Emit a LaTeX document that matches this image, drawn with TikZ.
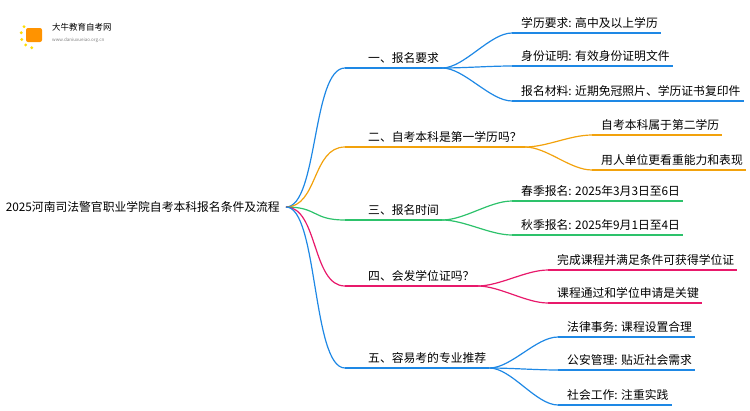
\documentclass[tikz,border=0pt]{standalone}
\usepackage{fontspec}
\usetikzlibrary{calc}
\setmainfont{Noto Sans CJK SC}
\begin{document}
\begin{tikzpicture}[x=1pt,y=-1pt,font=\fontsize{11.8}{13}\selectfont,
  lbl/.style={anchor=south west,inner xsep=3pt,inner ysep=4pt},
  ul/.style={line width=1.2pt},
  br/.style={line width=1.2pt}]
\useasboundingbox (0,0) rectangle (750,410);
\definecolor{cb}{HTML}{1E88E5}\definecolor{co}{HTML}{F2A20C}
\definecolor{cg}{HTML}{2DC26B}\definecolor{cp}{HTML}{E8196B}
% logo
\fill[orange!85!yellow,rounded corners=2pt] (26,28) rectangle (42,42);
\foreach \a in {100,130,160,190,220}{\fill[yellow!80!orange] ($(34,35)+(\a:13)$) circle (1.6);}
\node[anchor=west,font=\fontsize{8.5}{10}\selectfont,inner sep=0] (logot) at (52,27) {大牛教育自考网};
\node[anchor=west,font=\fontsize{4.5}{6}\selectfont,inner sep=0,text=gray] (logou) at (52,40) {www.daniuxueiao.org.cn};
% root
\node[anchor=east,inner sep=2pt] (root) at (282,207) {2025河南司法警官职业学院自考本科报名条件及流程};
\coordinate (r) at (286,207);
\newcommand\lone[4]{%
  \node[lbl] (#1) at (345,#2) {#4};
  \draw[ul,#3] (#1.south west) -- (#1.south east);
  \draw[br,#3] (r) .. controls (318,207) and (312,#2) .. (#1.south west);}
\lone{a}{68}{cb}{\hspace{20pt}一、报名要求\hspace{14pt}}
\lone{b}{147}{co}{\hspace{20pt}二、自考本科是第一学历吗？\hspace{2pt}}
\lone{c}{220}{cg}{\hspace{20pt}三、报名时间\hspace{12pt}}
\lone{d}{286}{cp}{\hspace{20pt}四、会发学位证吗？\hspace{4pt}}
\lone{e}{368}{cb}{\hspace{20pt}五、容易考的专业推荐\hspace{10pt}}
\newcommand\conn[3]{%
  \draw[ul,#3] (#2.south west) -- (#2.south east);
  \draw[br,#3] (#1.south east) .. controls ([xshift=22pt]#1.south east) and ([xshift=-22pt]#2.south west) .. (#2.south west);}
\node[lbl] (a1) at (512,33) {\hspace{6pt}学历要求: 高中及以上学历\hspace{4pt}}; \conn{a}{a1}{cb}
\node[lbl] (a2) at (512,66) {\hspace{6pt}身份证明: 有效身份证明文件\hspace{4pt}}; \conn{a}{a2}{cb}
\node[lbl] (a3) at (512,101) {\hspace{6pt}报名材料: 近期免冠照片、学历证书复印件}; \conn{a}{a3}{cb}
\node[lbl] (b1) at (592,135) {\hspace{6pt}自考本科属于第二学历\hspace{4pt}}; \conn{b}{b1}{co}
\node[lbl] (b2) at (592,170) {\hspace{6pt}用人单位更看重能力和表现}; \conn{b}{b2}{co}
\node[lbl] (c1) at (512,201) {\hspace{6pt}春季报名: 2025年3月3日至6日\hspace{4pt}}; \conn{c}{c1}{cg}
\node[lbl] (c2) at (512,235) {\hspace{6pt}秋季报名: 2025年9月1日至4日\hspace{4pt}}; \conn{c}{c2}{cg}
\node[lbl] (d1) at (548,270) {\hspace{6pt}完成课程并满足条件可获得学位证}; \conn{d}{d1}{cp}
\node[lbl] (d2) at (548,303) {\hspace{6pt}课程通过和学位申请是关键\hspace{6pt}}; \conn{d}{d2}{cp}
\node[lbl] (e1) at (558,337) {\hspace{6pt}法律事务: 课程设置合理\hspace{4pt}}; \conn{e}{e1}{cb}
\node[lbl] (e2) at (558,370) {\hspace{6pt}公安管理: 贴近社会需求\hspace{4pt}}; \conn{e}{e2}{cb}
\node[lbl] (e3) at (558,405) {\hspace{6pt}社会工作: 注重实践\hspace{4pt}}; \conn{e}{e3}{cb}
\end{tikzpicture}
\end{document}
